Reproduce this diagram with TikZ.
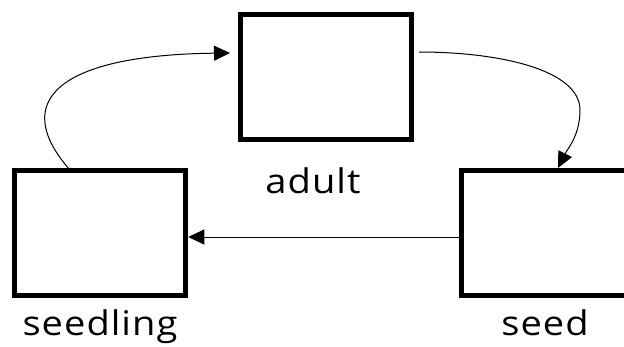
\documentclass[tikz,border=0pt]{standalone}
\usepackage{fontspec}
\setmainfont{Open Sans}[LetterSpace=3.0,FakeStretch=1.12]
\usetikzlibrary{arrows.meta}
\begin{document}
\begin{tikzpicture}[x=1pt,y=-1pt,
  box/.style={draw=black, line width=5pt, minimum width=171pt, minimum height=125pt, inner sep=0pt},
  lbl/.style={anchor=base, inner sep=0pt, font=\fontsize{34}{40}\selectfont},
  conn/.style={line width=1pt, -{Triangle[length=16pt,width=15pt]}}]
\useasboundingbox (0,0) rectangle (624,346);
\node[box] (adult) at (326,77) {};
\node[box] (seedling) at (100.25,233) {};
\node[box] (seed) at (546.7,233) {};
\node[lbl] (adultlbl) at (313,193) {adult};
\node[lbl] (seedlinglbl) at (100,335) {seedling};
\node[lbl] (seedlbl) at (545,335) {seed};
\draw[conn] ([xshift=-32pt]seedling.north) .. controls (10,100) and (60,55) .. ([xshift=-8pt,yshift=24pt]adult.west);
\draw[conn] ([xshift=5pt,yshift=25pt]adult.east) .. controls (500,52) and (580,70) .. (580,110) .. controls (580,135) and (568,148) .. ([xshift=11.3pt]seed.north);
\draw[conn] ([yshift=-4pt]seed.west) -- ([yshift=-4pt]seedling.east);
\end{tikzpicture}
\end{document}
